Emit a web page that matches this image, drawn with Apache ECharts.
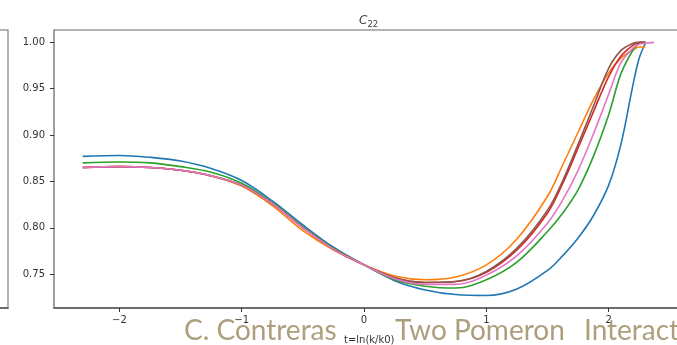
<!DOCTYPE html>
<html>
<head>
<meta charset="utf-8">
<script src="https://cdn.jsdelivr.net/npm/echarts@6/dist/echarts.min.js"></script>
<style>
html,body{margin:0;padding:0;background:#fff;}
#main{width:677px;height:345px;}
</style>
</head>
<body>
<div id="main"></div>
<script>
// x grid: t = ln(k/k0)
var xs = [-2.3, -2.0, -1.75, -1.5, -1.25, -1.0, -0.75, -0.5, -0.25, 0, 0.25, 0.5, 0.75, 1.0, 1.25, 1.5, 1.625, 1.75, 1.875, 2.0, 2.1, 2.2, 2.25, 2.3, 2.37];

var blue   = [0.877, 0.878, 0.876, 0.872, 0.864, 0.851, 0.829, 0.803, 0.779, 0.760, 0.743, 0.733, 0.728, 0.727, 0.734, 0.754, 0.770, 0.789, 0.813, 0.846, 0.890, 0.955, 0.983, 0.999];
var orange = [0.865, 0.866, 0.865, 0.862, 0.856, 0.845, 0.824, 0.797, 0.776, 0.760, 0.748, 0.744, 0.747, 0.760, 0.788, 0.834, 0.868, 0.903, 0.938, 0.967, 0.983, 0.992, 0.995, 0.995];
var green  = [0.870, 0.871, 0.870, 0.866, 0.860, 0.848, 0.827, 0.801, 0.778, 0.760, 0.744, 0.737, 0.735, 0.744, 0.763, 0.796, 0.816, 0.841, 0.877, 0.922, 0.966, 0.992, 0.999, 1.000];
var red    = [0.865, 0.866, 0.865, 0.862, 0.856, 0.846, 0.826, 0.800, 0.777, 0.760, 0.746, 0.741, 0.742, 0.752, 0.776, 0.816, 0.848, 0.886, 0.925, 0.963, 0.985, 0.997, 1.000, 1.000];
var brown  = [0.865, 0.866, 0.865, 0.862, 0.856, 0.846, 0.826, 0.800, 0.777, 0.760, 0.746, 0.741, 0.742, 0.753, 0.778, 0.819, 0.851, 0.890, 0.931, 0.972, 0.991, 0.999, 1.000, 1.000];
var pink   = [0.865, 0.866, 0.865, 0.862, 0.856, 0.846, 0.826, 0.800, 0.777, 0.760, 0.745, 0.739, 0.739, 0.749, 0.770, 0.805, 0.830, 0.862, 0.901, 0.944, 0.978, 0.994, 0.998, 0.999, 1.000];

var xTicks = [-2, -1, 0, 1, 2];
var yTicks = [0.75, 0.80, 0.85, 0.90, 0.95, 1.00];

var seriesDefs = [
  {name: 'blue', data: blue, color: '#1f77b4'},
  {name: 'orange', data: orange, color: '#ff7f0e'},
  {name: 'green', data: green, color: '#2ca02c'},
  {name: 'red', data: red, color: '#d62728'},
  {name: 'brown', data: brown, color: '#8c564b'},
  {name: 'pink', data: pink, color: '#e377c2'}
];

function pairs(vals) {
  return vals.map(function (v, i) { return [xs[i], v]; });
}

var chart = echarts.init(document.getElementById('main'), null, {renderer: 'canvas'});
var axisFont = {fontFamily: 'DejaVu Sans', fontSize: 10, color: '#333'};
var bannerStyle = {fontFamily: 'Lato', fontSize: 28, fill: '#ad9f7e'};

var option = {
  animation: false,
  backgroundColor: '#fff',
  title: {
    text: '{c|C}{s|22}',
    left: 354,
    top: 8,
    textStyle: {
      fontWeight: 'normal',
      rich: {
        c: {fontFamily: 'DejaVu Sans', fontStyle: 'italic', fontWeight: 'normal', fontSize: 12, color: '#444', lineHeight: 16, verticalAlign: 'middle'},
        s: {fontFamily: 'DejaVu Sans', fontWeight: 'normal', fontSize: 8.5, color: '#444', lineHeight: 16, verticalAlign: 'bottom'}
      }
    }
  },
  grid: [
    {left: 54, top: 30, width: 630.5, height: 278, show: true, borderColor: '#9a9a9a', borderWidth: 1.5, backgroundColor: 'transparent', containLabel: false, outerBoundsMode: 'none'},
    {left: -300, top: 30, width: 308, height: 278, show: true, borderColor: '#9a9a9a', borderWidth: 1.5, backgroundColor: 'transparent', containLabel: false, outerBoundsMode: 'none'}
  ],
  xAxis: [
    {
      type: 'value', gridIndex: 0, min: -2.535, max: 2.62,
      name: 't=ln(k/k0)', nameLocation: 'middle', nameGap: 27,
      nameTextStyle: {fontFamily: 'DejaVu Sans', fontSize: 10, color: '#333'},
      axisLine: {show: true, onZero: false, lineStyle: {color: '#555', width: 1.5}},
      axisTick: {show: true, length: 4, lineStyle: {color: '#333', width: 1}, customValues: xTicks},
      axisLabel: Object.assign({margin: 7, customValues: xTicks, formatter: function (v) { return v < 0 ? '\u2212' + Math.abs(v) : String(v); }}, axisFont),
      splitLine: {show: false}
    },
    {
      type: 'value', gridIndex: 1, min: 0, max: 1,
      axisLine: {show: true, onZero: false, lineStyle: {color: '#555', width: 1.5}},
      axisTick: {show: false}, axisLabel: {show: false}, splitLine: {show: false}
    }
  ],
  yAxis: [
    {
      type: 'value', gridIndex: 0, min: 0.7135, max: 1.0133,
      axisLine: {show: true, onZero: false, lineStyle: {color: '#9a9a9a', width: 1.5}},
      axisTick: {show: true, length: 4, lineStyle: {color: '#333', width: 1}, customValues: yTicks},
      axisLabel: Object.assign({margin: 9, customValues: yTicks, formatter: function (v) { return v.toFixed(2); }}, axisFont),
      splitLine: {show: false}
    },
    {
      type: 'value', gridIndex: 1, min: 0, max: 1,
      axisLine: {show: false, onZero: false}, axisTick: {show: false}, axisLabel: {show: false}, splitLine: {show: false}
    }
  ],
  series: seriesDefs.map(function (s) {
    return {
      name: s.name, type: 'line', xAxisIndex: 0, yAxisIndex: 0,
      data: pairs(s.data), showSymbol: false, smooth: 0.35,
      lineStyle: {color: s.color, width: 1.6}, itemStyle: {color: s.color}, z: 3
    };
  }),
  graphic: [
    {type: 'text', left: 184, top: 317, z: 1, style: Object.assign({text: 'C. Contreras'}, bannerStyle)},
    {type: 'text', left: 395, top: 317, z: 1, style: Object.assign({text: 'Two Pomeron'}, bannerStyle)},
    {type: 'text', left: 584, top: 317, z: 1, style: Object.assign({text: 'Interactions'}, bannerStyle)}
  ]
};
chart.setOption(option);
</script>
</body>
</html>
